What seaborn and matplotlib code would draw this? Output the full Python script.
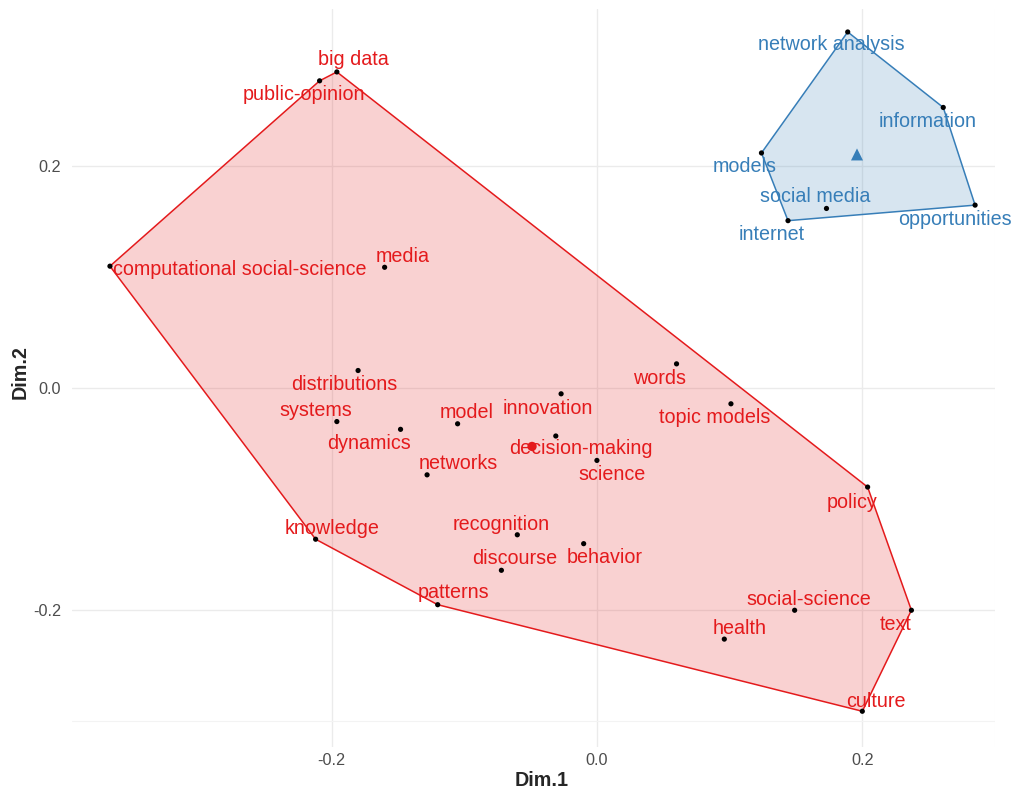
import numpy as np
import pandas as pd
import matplotlib
matplotlib.use("Agg")
import matplotlib.pyplot as plt
import seaborn as sns

# Word coordinates on the first two dimensions and their cluster
words = [
    "big data", "public-opinion", "computational social-science", "media",
    "distributions", "systems", "dynamics", "model", "networks", "knowledge",
    "innovation", "decision-making", "science", "recognition", "discourse",
    "behavior", "patterns", "words", "topic models", "policy",
    "social-science", "text", "health", "culture",
    "network analysis", "information", "models", "social media", "internet",
    "opportunities",
]
dim1 = [
    -0.196, -0.209, -0.367, -0.160,
    -0.180, -0.196, -0.148, -0.105, -0.128, -0.212,
    -0.027, -0.031, 0.000, -0.060, -0.072,
    -0.010, -0.120, 0.060, 0.101, 0.204,
    0.149, 0.237, 0.096, 0.200,
    0.189, 0.261, 0.124, 0.173, 0.144,
    0.285,
]
dim2 = [
    0.285, 0.277, 0.110, 0.109,
    0.016, -0.030, -0.037, -0.032, -0.078, -0.136,
    -0.005, -0.043, -0.065, -0.132, -0.164,
    -0.140, -0.195, 0.022, -0.014, -0.089,
    -0.200, -0.200, -0.226, -0.291,
    0.321, 0.253, 0.212, 0.162, 0.151,
    0.165,
]
cluster = ["1"] * 24 + ["2"] * 6

# Text placement around each point, in pixels (dx, dy; dy up)
label_offsets = {
    "big data": (17, 12), "public-opinion": (-16, -14),
    "computational social-science": (130, -3), "media": (18, 11),
    "distributions": (-14, -14), "systems": (-21, 11), "dynamics": (-32, -14),
    "model": (9, 11), "networks": (31, 11), "knowledge": (16, 11),
    "innovation": (-13, -15), "decision-making": (25, -13), "science": (15, -14),
    "recognition": (-16, 10), "discourse": (13, 12), "behavior": (21, -14),
    "patterns": (16, 12), "words": (-17, -15), "topic models": (-16, -14),
    "policy": (-16, -15), "social-science": (14, 11), "text": (-16, -14),
    "health": (15, 11), "culture": (14, 10),
    "network analysis": (-16, -13), "information": (-16, -14),
    "models": (-17, -14), "social media": (-11, 12), "internet": (-16, -14),
    "opportunities": (-20, -14),
}

palette = {"1": "#E41A1C", "2": "#377EB8"}
centroid_marker = {"1": "o", "2": "^"}
centroid_size = {"1": 45, "2": 75}

df = pd.DataFrame({"word": words, "Dim.1": dim1, "Dim.2": dim2, "cluster": cluster})


def convex_hull(pts):
    pts = sorted(map(tuple, pts))
    if len(pts) <= 2:
        return pts

    def cross(o, a, b):
        return (a[0] - o[0]) * (b[1] - o[1]) - (a[1] - o[1]) * (b[0] - o[0])

    lower, upper = [], []
    for p in pts:
        while len(lower) >= 2 and cross(lower[-2], lower[-1], p) <= 0:
            lower.pop()
        lower.append(p)
    for p in reversed(pts):
        while len(upper) >= 2 and cross(upper[-2], upper[-1], p) <= 0:
            upper.pop()
        upper.append(p)
    return lower[:-1] + upper[:-1]


sns.set_style("white")
plt.rcParams["font.family"] = ["Liberation Sans", "DejaVu Sans"]

W, H = 1015, 789
fig = plt.figure(figsize=(W / 100, H / 100), dpi=100)
left, right, top, bottom = 72, 995, 9, 747
ax = fig.add_axes([left / W, 1 - bottom / H, (right - left) / W, (bottom - top) / H])

ax.set_xlim(-0.3956, 0.2995)
ax.set_ylim(-0.3232, 0.3417)

# Grid
ax.set_xticks([-0.2, 0.0, 0.2])
ax.set_yticks([-0.2, 0.0, 0.2])
ax.set_xticks([0.3], minor=True)
ax.set_yticks([-0.3], minor=True)
ax.grid(True, which="major", color="#EBEBEB", linewidth=1.0)
ax.grid(True, which="minor", color="#F3F3F3", linewidth=0.8)
ax.set_axisbelow(True)
for s in ax.spines.values():
    s.set_visible(False)
ax.tick_params(which="both", length=0, labelsize=11.7, labelcolor="#4D4D4D")
ax.tick_params(axis="x", pad=4)
ax.tick_params(axis="y", pad=8)
ax.set_xticklabels(["-0.2", "0.0", "0.2"])
ax.set_yticklabels(["-0.2", "0.0", "0.2"])

# Cluster hulls
for cl, sub in df.groupby("cluster"):
    hull = np.array(convex_hull(sub[["Dim.1", "Dim.2"]].values))
    ax.fill(hull[:, 0], hull[:, 1], facecolor=palette[cl], alpha=0.2,
            edgecolor="none", zorder=1)
    closed = np.vstack([hull, hull[:1]])
    ax.plot(closed[:, 0], closed[:, 1], color=palette[cl], linewidth=1.1, zorder=2)

# Word points
sns.scatterplot(data=df, x="Dim.1", y="Dim.2", color="black", s=14,
                edgecolor="none", ax=ax, zorder=3, legend=False)

# Cluster centroids
cent = df.groupby("cluster")[["Dim.1", "Dim.2"]].mean().reset_index()
for _, r in cent.iterrows():
    ax.scatter(r["Dim.1"], r["Dim.2"], marker=centroid_marker[r["cluster"]],
               s=centroid_size[r["cluster"]], color=palette[r["cluster"]],
               edgecolor="none", zorder=4)

# Word labels
for _, r in df.iterrows():
    dx, dy = label_offsets[r["word"]]
    ax.annotate(r["word"], (r["Dim.1"], r["Dim.2"]), xytext=(dx, dy),
                textcoords="offset pixels", ha="center", va="center",
                fontsize=14.2, color=palette[r["cluster"]], zorder=5)

ax.set_xlabel("")
ax.set_ylabel("")
fig.text(542 / W, 1 - 780 / H, "Dim.1", ha="center", va="center",
         fontsize=14.2, fontweight="bold")
fig.text(20 / W, 1 - 372 / H, "Dim.2", ha="center", va="center",
         fontsize=14.2, fontweight="bold", rotation=90)

fig.savefig("out.png", dpi=100, facecolor="white")
